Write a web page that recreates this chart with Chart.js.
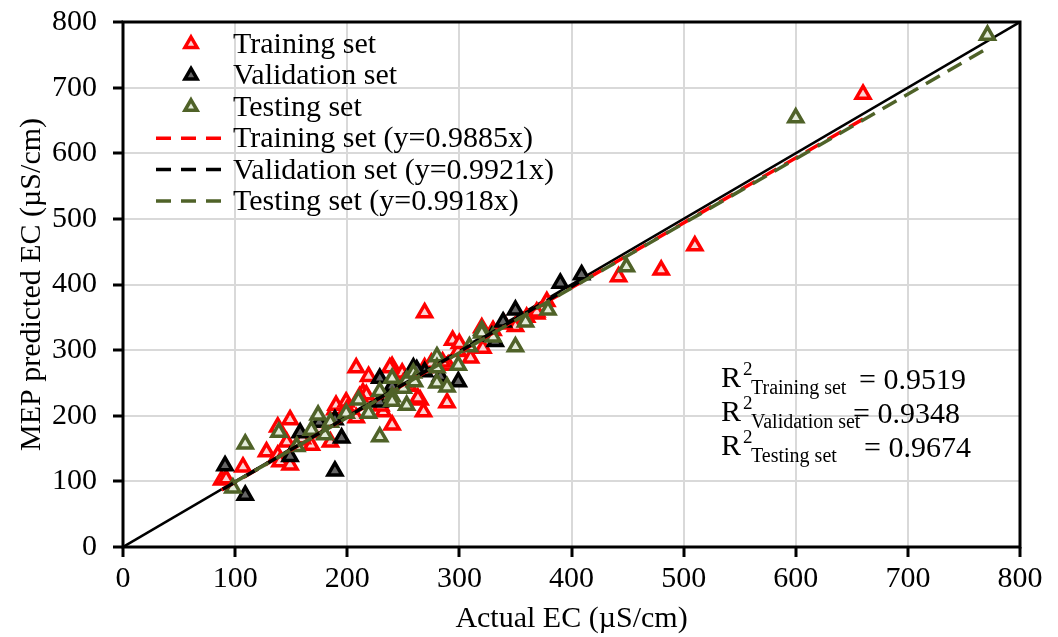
<!DOCTYPE html>
<html>
<head>
<meta charset="utf-8">
<script src="https://cdn.jsdelivr.net/npm/chart.js@4.4.0/dist/chart.umd.min.js"></script>
<style>
  html, body { margin: 0; padding: 0; background: #fff; }
  canvas { display: block; }
</style>
</head>
<body>
<canvas id="chart" width="1058" height="637"></canvas>
<script>
// values (actual EC vs MEP predicted EC, µS/cm)
const trainX = [88, 92, 107, 128, 138, 140, 149, 138, 149, 146, 158, 168, 178, 185, 189, 190, 199, 208, 208, 214, 217, 211, 219, 232, 240, 240, 249, 265, 263, 268, 269, 269, 289, 290, 285, 294, 299, 310, 321, 320, 350, 369, 378, 369, 442, 480, 510, 660, 238, 160, 175, 200, 230, 255, 300, 330, 340, 360, 250, 275];
const trainY = [102, 104, 122, 145, 140, 130, 125, 183, 194, 160, 163, 155, 174, 160, 209, 216, 221, 197, 273, 235, 232, 229, 260, 206, 186, 275, 265, 224, 227, 206, 357, 273, 220, 277, 282, 315, 298, 288, 303, 334, 336, 355, 374, 358, 412, 422, 459, 690, 273, 165, 180, 210, 215, 245, 310, 330, 340, 350, 250, 280];

const validX = [91, 109, 149, 158, 189, 189, 195, 175, 229, 229, 259, 269, 283, 299, 332, 329, 339, 350, 390, 409, 262, 240];
const validY = [124, 79, 138, 174, 116, 194, 166, 190, 257, 221, 273, 267, 260, 252, 313, 321, 343, 361, 402, 415, 270, 245];

const testX = [98, 109, 139, 155, 168, 174, 180, 199, 210, 219, 229, 229, 240, 240, 240, 250, 253, 253, 259, 260, 280, 280, 280, 289, 299, 309, 320, 320, 330, 350, 359, 379, 449, 600, 771, 185];
const testY = [90, 157, 175, 153, 178, 201, 171, 204, 224, 204, 237, 168, 229, 257, 222, 242, 216, 254, 265, 252, 290, 273, 250, 244, 277, 305, 330, 326, 320, 305, 343, 361, 427, 654, 780, 190];

// fitted lines (end points), and the 1:1 line
const trainFitX = [88, 660];
const trainFitY = [87, 652];
const validFitX = [89, 409];
const validFitY = [88, 406];
const testFitX = [98, 771];
const testFitY = [97, 760];
const idealX = [0, 800];
const idealY = [0, 800];

const axisTicks = [0, 100, 200, 300, 400, 500, 600, 700, 800];

const r2Labels = ['Training set', 'Validation set', 'Testing set'];
const r2Values = ['0.9519', '0.9348', '0.9674'];

const RED = '#ff0000';
const GREEN = '#4f6228';
const FONT = '"Liberation Serif", "Times New Roman", serif';

function pts(xs, ys) {
  return xs.map((x, i) => ({ x: x, y: ys[i] }));
}

function scatterSet(label, xs, ys, color, fill, order) {
  return {
    type: 'scatter',
    label: label,
    data: pts(xs, ys),
    pointStyle: 'triangle',
    pointRadius: 8,
    pointBorderWidth: 3.5,
    borderColor: color,
    backgroundColor: fill,
    order: order,
    legendKind: 'marker'
  };
}

function fitSet(label, xs, ys, color, order) {
  return {
    type: 'line',
    label: label,
    data: pts(xs, ys),
    borderColor: color,
    borderWidth: 3.5,
    borderDash: [16, 9],
    pointRadius: 0,
    fill: false,
    order: order,
    legendKind: 'line'
  };
}

const datasets = [
  scatterSet('Training set', trainX, trainY, RED, '#fbd3d3', 6),
  scatterSet('Validation set', validX, validY, '#000000', '#666666', 5),
  scatterSet('Testing set', testX, testY, GREEN, '#e3ebd9', 4),
  fitSet('Training set (y=0.9885x)', trainFitX, trainFitY, RED, 3),
  fitSet('Validation set (y=0.9921x)', validFitX, validFitY, '#000000', 2),
  fitSet('Testing set (y=0.9918x)', testFitX, testFitY, GREEN, 1),
  {
    type: 'line',
    label: '1:1',
    data: pts(idealX, idealY),
    borderColor: '#000',
    borderWidth: 2.5,
    pointRadius: 0,
    fill: false,
    order: 7
  }
];

// legend drawn inside the plot, top-left
const insideLegend = {
  id: 'insideLegend',
  afterDraw(chart) {
    const ctx = chart.ctx;
    const area = chart.chartArea;
    const items = chart.data.datasets.filter(d => d.legendKind);
    ctx.save();
    ctx.font = '30px ' + FONT;
    ctx.textBaseline = 'alphabetic';
    items.forEach((d, i) => {
      const base = area.top + 31 + i * 31.4;
      const midY = base - 9;
      if (d.legendKind === 'marker') {
        const cx = area.left + 68, r = 7;
        ctx.beginPath();
        ctx.moveTo(cx, midY - r);
        ctx.lineTo(cx + r * 0.866, midY + r * 0.5);
        ctx.lineTo(cx - r * 0.866, midY + r * 0.5);
        ctx.closePath();
        ctx.fillStyle = d.backgroundColor;
        ctx.fill();
        ctx.lineWidth = 3.5;
        ctx.strokeStyle = d.borderColor;
        ctx.stroke();
      } else {
        ctx.beginPath();
        ctx.setLineDash([15, 10]);
        ctx.lineWidth = 3.5;
        ctx.strokeStyle = d.borderColor;
        ctx.moveTo(area.left + 33, midY);
        ctx.lineTo(area.left + 104, midY);
        ctx.stroke();
        ctx.setLineDash([]);
      }
      ctx.fillStyle = '#000';
      ctx.fillText(d.label, area.left + 110, base);
    });
    ctx.restore();
  }
};

// R² block, plus frame round the plot
const r2Note = {
  id: 'r2Note',
  afterDraw(chart) {
    const ctx = chart.ctx;
    const area = chart.chartArea;
    ctx.save();
    ctx.fillStyle = '#000';
    ctx.textBaseline = 'alphabetic';
    const eqX = [area.left + 736, area.left + 730, area.left + 741];
    r2Labels.forEach((lab, i) => {
      const base = area.top + 365 + i * 34;
      const x0 = area.left + 598;
      ctx.font = '30px ' + FONT;
      ctx.fillText('R', x0, base);
      ctx.font = '19px ' + FONT;
      ctx.fillText('2', x0 + 22, base - 12);
      ctx.font = '20px ' + FONT;
      ctx.fillText(lab, x0 + 30, base + 7);
      ctx.font = '30px ' + FONT;
      ctx.fillText('= ' + r2Values[i], eqX[i], base + 2);
    });
    ctx.lineWidth = 3;
    ctx.strokeStyle = '#000';
    ctx.strokeRect(area.left, area.top, area.right - area.left, area.bottom - area.top);
    ctx.restore();
  }
};

const tickFont = { family: FONT, size: 30 };

new Chart(document.getElementById('chart'), {
  data: { datasets: datasets },
  options: {
    responsive: false,
    animation: false,
    layout: { padding: { top: 22, right: 38, left: 0, bottom: 0 } },
    plugins: {
      legend: { display: false },
      tooltip: { enabled: false }
    },
    scales: {
      x: {
        type: 'linear',
        min: 0,
        max: 800,
        afterBuildTicks: s => { s.ticks = axisTicks.map(v => ({ value: v })); },
        afterFit: s => { s.height = 90; s.paddingLeft = 0; s.paddingRight = 0; },
        ticks: { font: tickFont, color: '#000', padding: 4, maxRotation: 0 },
        grid: { color: '#d9d9d9', lineWidth: 2, tickColor: '#000', tickWidth: 3, tickLength: 10 },
        border: { display: false },
        title: { display: true, text: 'Actual EC (µS/cm)', font: tickFont, color: '#000', padding: { top: 0, bottom: 0 } }
      },
      y: {
        type: 'linear',
        min: 0,
        max: 800,
        afterBuildTicks: s => { s.ticks = axisTicks.map(v => ({ value: v })); },
        afterFit: s => { s.width = 123; s.paddingTop = 0; s.paddingBottom = 0; },
        ticks: { font: tickFont, color: '#000', padding: 16 },
        grid: { color: '#d9d9d9', lineWidth: 2, tickColor: '#000', tickWidth: 3, tickLength: 10 },
        border: { display: false },
        title: { display: true, text: 'MEP predicted EC (µS/cm)', font: tickFont, color: '#000', padding: { top: 14, bottom: 0 } }
      }
    }
  },
  plugins: [insideLegend, r2Note]
});
</script>
</body>
</html>
